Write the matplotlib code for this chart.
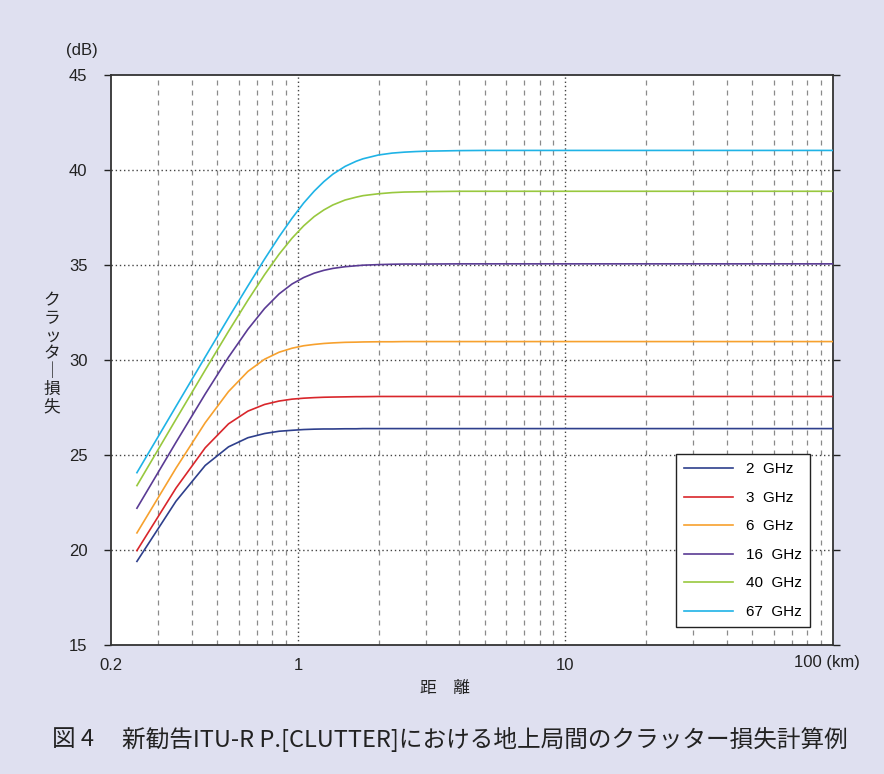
import numpy as np
import matplotlib
matplotlib.use('Agg')
import matplotlib.pyplot as plt
from matplotlib.ticker import FixedLocator, NullFormatter

plt.rcParams['font.family'] = ['Liberation Sans', 'Noto Sans CJK JP', 'DejaVu Sans']

# distance (km)
dist = [0.25, 0.35, 0.45, 0.55, 0.65, 0.75, 0.85, 0.95, 1.05, 1.15, 1.25, 1.35, 1.5, 1.65,
        1.75, 2, 2.25, 2.5, 2.75, 3, 4, 5, 7, 10, 20, 50, 100]

# clutter loss (dB) per frequency
loss_2 = [19.40, 22.57, 24.45, 25.43, 25.91, 26.13, 26.25, 26.30, 26.34, 26.36, 26.37, 26.37,
          26.38, 26.38, 26.39, 26.39, 26.39, 26.39, 26.39, 26.39, 26.39, 26.39, 26.39, 26.39,
          26.39, 26.39, 26.39]
loss_3 = [19.97, 23.26, 25.38, 26.64, 27.31, 27.66, 27.84, 27.94, 27.99, 28.02, 28.04, 28.05,
          28.06, 28.07, 28.07, 28.08, 28.08, 28.08, 28.08, 28.08, 28.08, 28.08, 28.08, 28.08,
          28.08, 28.08, 28.08]
loss_6 = [20.90, 24.31, 26.70, 28.34, 29.40, 30.04, 30.41, 30.62, 30.75, 30.82, 30.87, 30.90,
          30.93, 30.94, 30.95, 30.96, 30.96, 30.97, 30.97, 30.97, 30.97, 30.97, 30.97, 30.97,
          30.97, 30.97, 30.97]
loss_16 = [22.20, 25.67, 28.21, 30.15, 31.62, 32.71, 33.48, 34.00, 34.34, 34.57, 34.72, 34.82,
           34.91, 34.96, 34.99, 35.02, 35.04, 35.05, 35.05, 35.05, 35.06, 35.06, 35.06, 35.06,
           35.06, 35.06, 35.06]
loss_40 = [23.39, 26.88, 29.47, 31.51, 33.15, 34.49, 35.57, 36.41, 37.06, 37.55, 37.90, 38.16,
           38.42, 38.57, 38.65, 38.75, 38.81, 38.84, 38.85, 38.86, 38.88, 38.88, 38.88, 38.88,
           38.88, 38.88, 38.88]
loss_67 = [24.07, 27.56, 30.16, 32.22, 33.90, 35.31, 36.49, 37.46, 38.26, 38.89, 39.39, 39.78,
           40.19, 40.46, 40.59, 40.79, 40.89, 40.94, 40.97, 40.99, 41.02, 41.03, 41.03, 41.03,
           41.03, 41.03, 41.03]

labels = ['2  GHz', '3  GHz', '6  GHz', '16  GHz', '40  GHz', '67  GHz']
colors = ['#2e3f8c', '#d9262b', '#f7a12e', '#5a3b94', '#98c83e', '#1fb3e6']

bg = '#dfe0f0'
fig = plt.figure(figsize=(8.84, 7.74), dpi=100, facecolor=bg)
ax = fig.add_axes([111/884, 1 - 645/774, (833-111)/884, (645-75)/774])
ax.set_facecolor('white')

for y, lab, c in zip([loss_2, loss_3, loss_6, loss_16, loss_40, loss_67], labels, colors):
    ax.plot(dist, y, color=c, lw=1.2, label=lab, zorder=3)

ax.set_xscale('log')
ax.set_xlim(0.2, 100)
ax.set_ylim(15, 45)

# grid
minor_x = [m * 10.0**e for e in (-1, 0, 1) for m in range(2, 10) if m * 10.0**e > 0.25]
for xv in minor_x:
    ax.axvline(xv, color='#8a8a8a', lw=0.9, ls=(0, (4, 4)), zorder=1)
for xv in [1, 10]:
    ax.axvline(xv, color='#444444', lw=1.0, ls=(0, (1, 2)), zorder=1)
for yv in [20, 25, 30, 35, 40]:
    ax.axhline(yv, color='#444444', lw=1.0, ls=(0, (1, 2)), zorder=1)

ax.xaxis.set_major_locator(FixedLocator([0.2, 1, 10, 100]))
ax.xaxis.set_minor_locator(FixedLocator([]))
ax.set_xticklabels(['0.2', '1', '10', ''])
ax.xaxis.set_minor_formatter(NullFormatter())
ax.tick_params(axis='x', length=0, pad=9, labelsize=12, colors='#222222')
ax.set_yticks(np.arange(15, 46, 5))
ax.tick_params(axis='y', direction='out', length=5, width=1, pad=12, labelsize=12,
               colors='#222222', right=True)
for s in ax.spines.values():
    s.set_color('#333333')
    s.set_linewidth(1.3)

fig.text(827/884, 1 - 663/774, '100 (km)', ha='center', va='center', fontsize=12,
         color='#222222')
fig.text(82/884, 1 - 50/774, '(dB)', ha='center', va='center', fontsize=12, color='#222222')
fig.text(445/884, 1 - 689/774, '距　離', ha='center', va='center', fontsize=12,
         family=['Noto Sans CJK JP'], color='#222222')
fig.text(52/884, 1 - 354/774, '\n'.join('クラッタ｜損失'), ha='center', va='center',
         fontsize=12, family=['Noto Sans CJK JP'], color='#222222', linespacing=1.05)
fig.text(52/884, 1 - 740/774, '図 4', ha='left', va='center', fontsize=17,
         family=['Noto Sans CJK JP'], color='#222222')
fig.text(122/884, 1 - 740/774, '新勧告ITU-R P.[CLUTTER]における地上局間のクラッター損失計算例',
         ha='left', va='center', fontsize=17, family=['Noto Sans CJK JP', 'DejaVu Sans'],
         color='#222222')

leg = ax.legend(loc='upper left', bbox_to_anchor=(676/884, 1 - 454/774),
                bbox_transform=fig.transFigure, borderaxespad=0, frameon=True,
                fancybox=False, edgecolor='#222222', framealpha=1, fontsize=11,
                handlelength=3.2, handletextpad=0.8, labelspacing=0.95,
                borderpad=0.55)
leg.get_frame().set_linewidth(1.0)

fig.savefig('out.png', dpi=100, facecolor=bg)
